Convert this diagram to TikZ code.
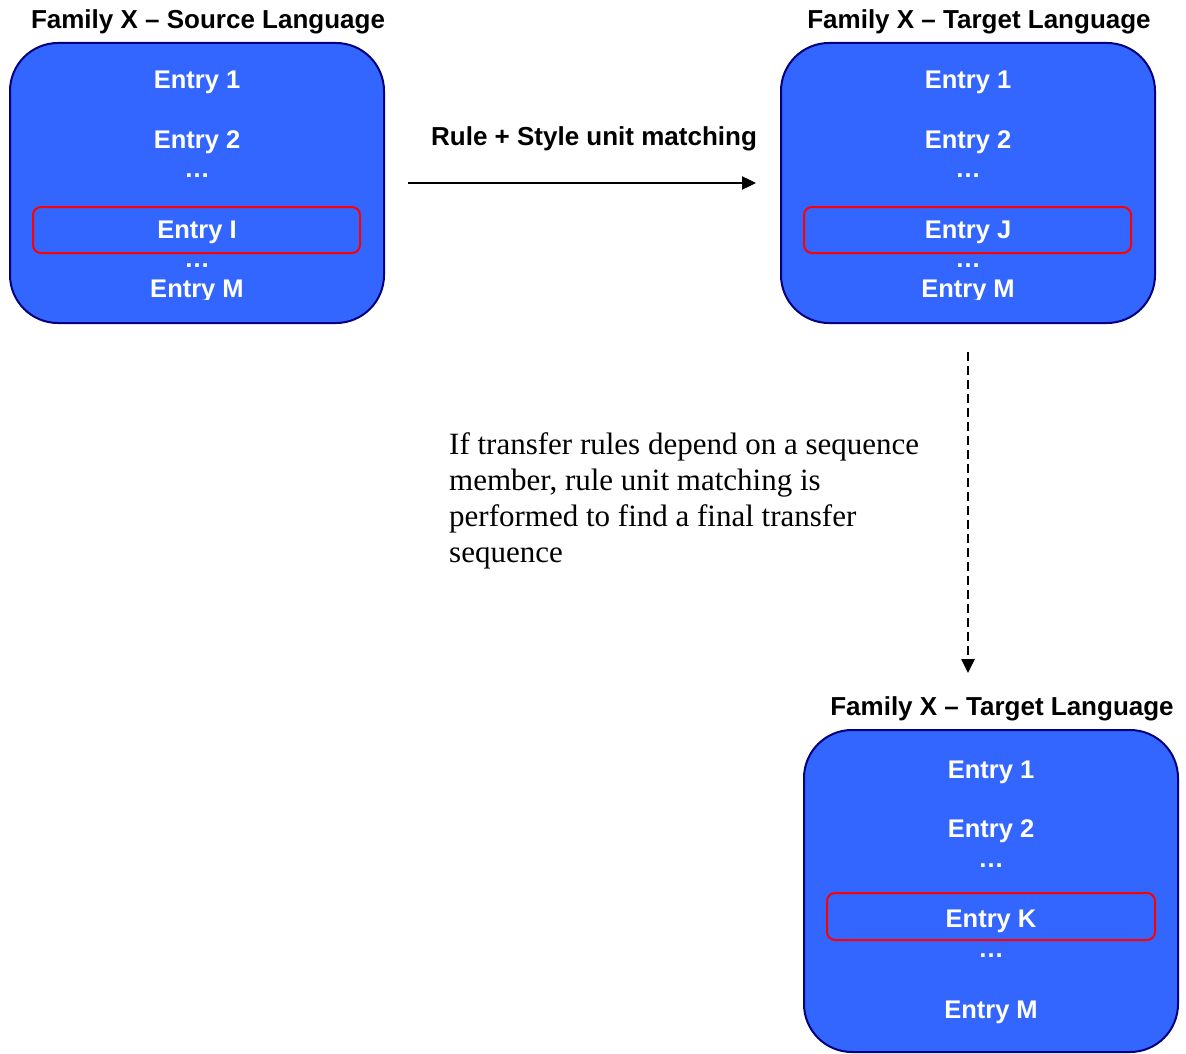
\documentclass[tikz,border=0pt]{standalone}
\usepackage{fontspec}
\setmainfont{Liberation Serif}
\setsansfont{Liberation Sans}
\usetikzlibrary{arrows.meta}
\definecolor{boxblue}{HTML}{3366FF}
\definecolor{boxnavy}{HTML}{000080}
\definecolor{selred}{HTML}{FF0000}
\tikzset{
  famtitle/.style={font=\sffamily\bfseries\fontsize{26}{28}\selectfont, anchor=base, inner sep=0pt, text=black},
  entry/.style={font=\sffamily\bfseries\fontsize{25.5}{28}\selectfont, anchor=base, inner sep=0pt, text=white},
  bigbox/.style={draw=boxnavy, line width=2pt, fill=boxblue, rounded corners=48pt, minimum width=374pt, inner sep=0pt},
  selbox/.style={draw=selred, line width=2pt, rounded corners=8pt, inner sep=0pt, minimum height=46pt},
  flowarrow/.style={line width=2.4pt, -{Triangle[length=14pt, width=13pt]}},
  dasharrow/.style={line width=2.6pt, dash pattern=on 9pt off 5pt, -{Triangle[length=14pt, width=13pt]}},
  note/.style={font=\rmfamily\fontsize{31}{36}\selectfont, align=left, anchor=base west, inner sep=0pt}
}
\begin{document}
\begin{tikzpicture}[x=1pt, y=-1pt]
\useasboundingbox[fill=white] (0,0) rectangle (1186,1054);

% ---- Source box ----
\node[famtitle] (t1) at (208,29) {Family X – Source Language};
\node[bigbox, minimum height=280pt] (src) at (197,183) {};
\node[selbox, minimum width=327pt] (srcsel) at (196.5,230) {};
\node[entry] (s1) at (197,89) {Entry 1};
\node[entry] (s2) at (197,149) {Entry 2};
\node[entry] (sd1) at (197,178) {…};
\node[entry] (si) at (197,238) {Entry I};
\node[entry] (sd2) at (197,267) {…};
\begin{scope}
  \clip (0,0) rectangle (1186,299);
  \node[entry] (sm) at (197,297) {Entry M};
\end{scope}

% ---- Target box ----
\node[famtitle] (t2) at (979,29) {Family X – Target Language};
\node[bigbox, minimum height=280pt] (tgt) at (968,183) {};
\node[selbox, minimum width=327pt] (tgtsel) at (967.5,230) {};
\node[entry] (g1) at (968,89) {Entry 1};
\node[entry] (g2) at (968,149) {Entry 2};
\node[entry] (gd1) at (968,178) {…};
\node[entry] (gj) at (968,238) {Entry J};
\node[entry] (gd2) at (968,267) {…};
\begin{scope}
  \clip (0,0) rectangle (1186,299);
  \node[entry] (gm) at (968,297) {Entry M};
\end{scope}

% ---- Final target box ----
\node[famtitle] (t3) at (1002,715) {Family X – Target Language};
\node[bigbox, minimum height=322pt] (fin) at (991,891) {};
\node[selbox, minimum width=328pt, minimum height=47pt] (finsel) at (991,916.5) {};
\node[entry] (f1) at (991,778) {Entry 1};
\node[entry] (f2) at (991,837) {Entry 2};
\node[entry] (fd1) at (991,867) {…};
\node[entry] (fk) at (991,927) {Entry K};
\node[entry] (fd2) at (991,957) {…};
\node[entry] (fm) at (991,1018) {Entry M};

% ---- Connectors ----
\node[font=\sffamily\bfseries\fontsize{26}{28}\selectfont, anchor=base, inner sep=0pt] (lab) at (594,146) {Rule + Style unit matching};
\draw[flowarrow, shorten <=23pt, shorten >=24pt] (src.east) -- (tgt.west);

\coordinate (dend) at (968,673);
\draw[dasharrow, shorten <=28pt] (tgt.south) -- (dend);

\node[note] (expl) at (449,562) {If transfer rules depend on a sequence\\member, rule unit matching is\\performed to find a final transfer\\sequence};
\end{tikzpicture}
\end{document}
